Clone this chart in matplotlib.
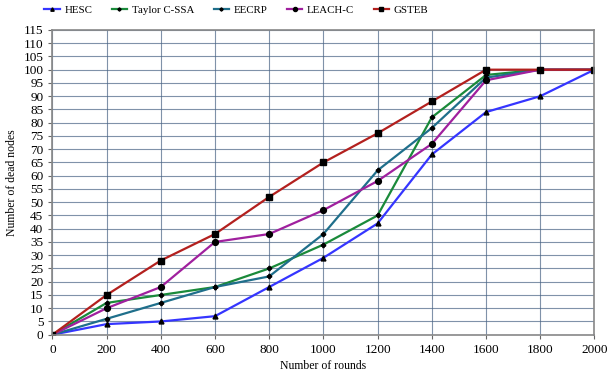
import matplotlib.pyplot as plt

plt.rcParams['font.family'] = 'Liberation Serif'

rounds = [0, 200, 400, 600, 800, 1000, 1200, 1400, 1600, 1800, 2000]
hesc = [0, 4, 5, 7, 18, 29, 42, 68, 84, 90, 100]
taylor = [0, 12, 15, 18, 25, 34, 45, 82, 98, 100, 100]
eecrp = [0, 6, 12, 18, 22, 38, 62, 78, 97, 100, 100]
leach = [0, 10, 18, 35, 38, 47, 58, 72, 96, 100, 100]
gsteb = [0, 15, 28, 38, 52, 65, 76, 88, 100, 100, 100]

series = [
    ("HESC", hesc, "#3535ff", "^", 3.5),
    ("Taylor C-SSA", taylor, "#1a8a3a", "P", 3),
    ("EECRP", eecrp, "#1f6f8b", "P", 3),
    ("LEACH-C", leach, "#a0209e", "o", 4.2),
    ("GSTEB", gsteb, "#b3201e", "s", 4),
]

fig, ax = plt.subplots(figsize=(6.16, 3.74), dpi=100)
fig.subplots_adjust(left=0.085, right=0.965, top=0.92, bottom=0.105)

for name, vals, col, mk, ms in series:
    ax.plot(rounds, vals, color=col, lw=1.6, marker=mk, markersize=ms,
            markerfacecolor="black", markeredgecolor="black", label=name)

ax.set_xlim(0, 2000)
ax.set_ylim(0, 115)
ax.set_xticks(range(0, 2001, 200))
ax.set_yticks(range(0, 116, 5))
ax.grid(True, color="#4a6485", lw=0.8, alpha=0.7)
ax.set_axisbelow(True)
ax.tick_params(labelsize=9.5, length=3, color="#666666")
for s in ax.spines.values():
    s.set_color("#888888")
    s.set_linewidth(1.2)

ax.set_xlabel("Number of rounds", fontsize=8.5, labelpad=3)
ax.set_ylabel("Number of dead nodes", fontsize=8.5, labelpad=4)

leg = fig.legend(loc="center left", bbox_to_anchor=(0.072, 0.972), ncol=5, frameon=False,
                 fontsize=7.8, handlelength=1.4, handletextpad=0.45, columnspacing=1.8,
                 borderaxespad=0, borderpad=0, markerscale=0.7)

plt.savefig("out.png", dpi=100)
